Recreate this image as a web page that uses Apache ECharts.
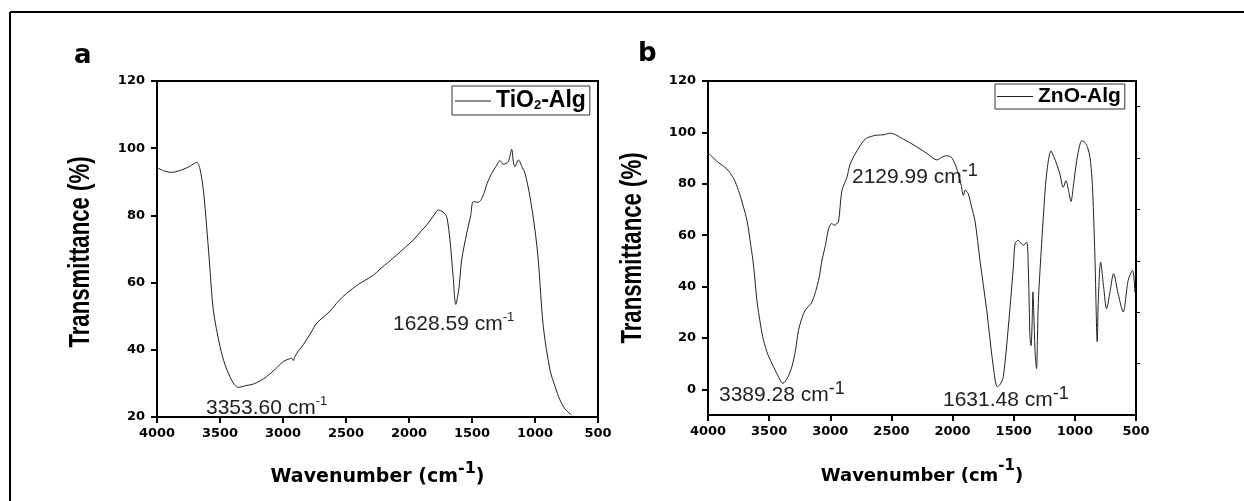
<!DOCTYPE html>
<html>
<head>
<meta charset="utf-8">
<script src="https://cdn.jsdelivr.net/npm/echarts@6/dist/echarts.min.js"></script>
<style>
  html, body { margin: 0; padding: 0; background: #fff; }
  #chart { width: 1244px; height: 501px; }
</style>
</head>
<body>
<div id="chart"></div>
<script>
// panel a: TiO2-Alg spectrum (wavenumber cm-1, transmittance %)
var tioWave = [4000, 3940, 3883, 3800, 3740, 3685, 3660, 3632, 3606, 3585, 3553, 3500, 3460, 3421, 3385, 3355,
  3300, 3236, 3180, 3130, 3060, 2998, 2950, 2931, 2918, 2905, 2880, 2839, 2780, 2730, 2627, 2560, 2495, 2400,
  2283, 2230, 2160, 2098, 2030, 1965, 1900, 1860, 1800, 1767, 1730, 1701, 1675, 1650, 1629, 1605, 1582, 1542,
  1510, 1490, 1450, 1410, 1380, 1344, 1310, 1278, 1252, 1212, 1185, 1172, 1159, 1132, 1100, 1079, 1040, 1000,
  974, 934, 881, 840, 802, 760, 710];
var tioTrans = [94.2, 93.2, 92.8, 93.6, 94.6, 95.8, 94.0, 87.5, 76.6, 66.7, 51.8, 41.0, 35.5, 32.0, 29.6, 28.8,
  29.3, 29.8, 30.8, 32.0, 34.3, 36.5, 37.3, 37.5, 36.8, 38.0, 39.5, 41.5, 45.0, 48.0, 51.5, 54.5, 56.8, 59.5,
  62.2, 64.0, 66.2, 68.2, 70.5, 72.7, 75.5, 77.1, 80.2, 81.6, 81.0, 79.6, 72.7, 62.0, 53.5, 58.0, 66.7, 74.7,
  80.0, 84.1, 83.9, 86.1, 89.5, 92.5, 94.5, 96.3, 95.2, 96.0, 99.7, 96.0, 94.5, 96.5, 94.2, 92.5, 85.6, 75.6,
  66.7, 46.9, 34.0, 29.0, 25.1, 22.3, 20.6];

// panel b: ZnO-Alg spectrum
var znoWave = [4000, 3920, 3845, 3790, 3750, 3710, 3681, 3650, 3627, 3600, 3570, 3546, 3510, 3464, 3420, 3388,
  3350, 3314, 3285, 3260, 3230, 3205, 3150, 3096, 3068, 3040, 3014, 2990, 2960, 2950, 2933, 2905, 2864, 2837,
  2782, 2715, 2660, 2620, 2560, 2511, 2400, 2300, 2200, 2129, 2080, 2047, 2010, 1993, 1970, 1952, 1930, 1911,
  1898, 1890, 1871, 1845, 1817, 1776, 1721, 1667, 1634, 1610, 1585, 1544, 1503, 1489, 1465, 1449, 1435, 1421,
  1394, 1381, 1372, 1367, 1358, 1350, 1343, 1336, 1326, 1313, 1306, 1299, 1285, 1258, 1231, 1195, 1172, 1149,
  1122, 1095, 1073, 1050, 1032, 1010, 985, 960, 944, 917, 895, 876, 860, 849, 835, 817, 808, 789, 765, 741,
  712, 684, 645, 605, 564, 528, 509];
var znoTrans = [92.0, 88.5, 85.7, 82.0, 77.3, 71.0, 65.7, 56.0, 48.0, 34.6, 25.0, 19.1, 13.5, 8.8, 4.5, 2.3,
  4.5, 8.8, 15.0, 23.0, 28.0, 30.8, 34.0, 42.4, 50.2, 56.0, 62.5, 64.5, 63.8, 64.5, 65.0, 77.3, 82.5, 87.7,
  92.8, 97.4, 98.5, 98.9, 99.1, 99.7, 97.3, 94.6, 91.5, 89.3, 90.5, 90.9, 90.3, 89.0, 86.5, 83.8, 79.5, 75.4,
  77.5, 77.3, 76.0, 71.0, 65.7, 50.2, 30.8, 8.8, 1.0, 2.0, 4.9, 24.3, 47.6, 56.6, 58.0, 57.3, 56.5, 56.0,
  57.3, 47.6, 30.0, 20.4, 17.0, 25.0, 37.9, 30.0, 15.0, 8.1, 20.0, 33.4, 46.3, 67.0, 83.8, 92.8, 90.5, 87.7,
  83.8, 78.6, 81.2, 77.0, 73.1, 80.0, 89.0, 95.0, 96.7, 96.1, 94.0, 90.2, 82.0, 70.8, 50.2, 18.5, 35.0, 49.5, 40.0, 31.4,
  38.0, 45.0, 37.0, 30.1, 42.4, 46.3, 37.9];

var xTicks = [500, 4000, 500];         // min, max, step
var yTicksA = [20, 120, 20];
var yTicksB = [0, 20, 40, 60, 80, 100, 120];
var yTicksBRight = [10, 30, 50, 70, 90, 110];

function zip(xs, ys) {
  return xs.map(function (x, i) { return [x, ys[i]]; });
}

var tickFont = {
  color: '#000', fontFamily: 'DejaVu Sans', fontWeight: 'bold', fontSize: 13,
  formatter: function (v) { return String(v); }
};

function xAxisFor(grid, nameSize) {
  return {
    type: 'value', gridIndex: grid, inverse: true,
    min: xTicks[0], max: xTicks[1], interval: xTicks[2],
    axisLine: { onZero: false, lineStyle: { color: '#000', width: 2 } },
    axisTick: { length: 6, lineStyle: { color: '#000', width: 2 } },
    axisLabel: Object.assign({ margin: 10 }, tickFont),
    splitLine: { show: false },
    name: '{n|Wavenumber (cm}{s|-1}{n|)}',
    nameLocation: 'middle', nameGap: 44,
    nameTextStyle: {
      rich: {
        n: { fontFamily: 'DejaVu Sans', fontWeight: 'bold', fontSize: nameSize, color: '#000', lineHeight: 26, verticalAlign: 'bottom' },
        s: { fontFamily: 'DejaVu Sans', fontWeight: 'bold', fontSize: nameSize - 3, color: '#000', lineHeight: 18, verticalAlign: 'top' }
      }
    }
  };
}

// y axis title drawn as a condensed, rotated text
function yTitle(cx, cy) {
  return {
    type: 'text', x: cx, y: cy, rotation: Math.PI / 2, scaleX: 0.74,
    style: {
      text: 'Transmittance (%)', font: 'bold 30px "Liberation Sans"', fill: '#000',
      align: 'center', verticalAlign: 'middle'
    }
  };
}

function anno(x, y, label, supSize, lift) {
  return {
    type: 'text', left: x, top: y, z: 10,
    style: {
      text: '{n|' + label + ' cm}{s|-1}',
      rich: {
        n: { fontFamily: 'Liberation Sans', fontSize: 21, fill: '#222', lineHeight: 24, padding: [lift, 0, 0, 0], verticalAlign: 'top' },
        s: { fontFamily: 'Liberation Sans', fontSize: supSize, fill: '#222', lineHeight: supSize + 2, verticalAlign: 'top' }
      }
    }
  };
}

var chart = echarts.init(document.getElementById('chart'));
chart.setOption({
  backgroundColor: '#fff',
  animation: false,
  grid: [
    { left: 157, top: 81, width: 441, height: 336, show: true, borderColor: '#000', borderWidth: 2 },
    { left: 708, top: 81, width: 428, height: 334, show: true, borderColor: '#000', borderWidth: 2 }
  ],
  legend: [
    {
      data: ['TiO2-Alg'], left: 452, top: 86, icon: 'rect',
      padding: [3, 4, 3, 3], itemWidth: 36, itemHeight: 1, itemGap: 4,
      borderColor: '#333', borderWidth: 1, itemStyle: { color: '#222' },
      formatter: function () { return '{b|TiO}{u|2}{b|-Alg}'; },
      textStyle: {
        rich: {
          b: { fontFamily: 'Liberation Sans', fontWeight: 'bold', fontSize: 23, color: '#000', lineHeight: 24, verticalAlign: 'top' },
          u: { fontFamily: 'Liberation Sans', fontWeight: 'bold', fontSize: 13, color: '#000', lineHeight: 16, padding: [10, 0, 0, 0], verticalAlign: 'top' }
        }
      }
    },
    {
      data: ['ZnO-Alg'], left: 995, top: 84, icon: 'rect',
      padding: [1, 4, 1, 2], itemWidth: 36, itemHeight: 1, itemGap: 4,
      borderColor: '#333', borderWidth: 1, itemStyle: { color: '#222' },
      textStyle: { fontFamily: 'Liberation Sans', fontWeight: 'bold', fontSize: 21, color: '#000', lineHeight: 23 }
    }
  ],
  xAxis: [xAxisFor(0, 19), xAxisFor(1, 18)],
  yAxis: [
    {
      type: 'value', gridIndex: 0, min: yTicksA[0], max: yTicksA[1], interval: yTicksA[2],
      axisLine: { show: true, lineStyle: { color: '#000', width: 2 } },
      axisTick: { show: true, length: 6, lineStyle: { color: '#000', width: 2 } },
      axisLabel: Object.assign({ margin: 12 }, tickFont),
      splitLine: { show: false }
    },
    {
      type: 'value', gridIndex: 1, min: -10, max: 120,
      axisLine: { show: true, onZero: false, lineStyle: { color: '#000', width: 2 } },
      axisTick: { show: true, length: 6, customValues: yTicksB, lineStyle: { color: '#000', width: 2 } },
      axisLabel: Object.assign({ margin: 12, customValues: yTicksB }, tickFont),
      splitLine: { show: false }
    },
    {
      type: 'value', gridIndex: 1, position: 'right', min: -10, max: 120,
      axisLine: { show: true, onZero: false, lineStyle: { color: '#000', width: 2 } },
      axisTick: { show: true, length: 4, customValues: yTicksBRight, lineStyle: { color: '#000', width: 1 } },
      axisLabel: { show: false },
      splitLine: { show: false }
    }
  ],
  series: [
    {
      name: 'TiO2-Alg', type: 'line', xAxisIndex: 0, yAxisIndex: 0,
      data: zip(tioWave, tioTrans), symbol: 'none', smooth: 0.3,
      lineStyle: { color: '#222', width: 1 }, itemStyle: { color: '#222' }
    },
    {
      name: 'ZnO-Alg', type: 'line', xAxisIndex: 1, yAxisIndex: 1,
      data: zip(znoWave, znoTrans), symbol: 'none', smooth: 0.3,
      lineStyle: { color: '#222', width: 1 }, itemStyle: { color: '#222' }
    }
  ],
  graphic: [
    // outer frame (left and top edges)
    { type: 'line', shape: { x1: 10, y1: 12, x2: 10, y2: 501 }, style: { stroke: '#000', lineWidth: 2 } },
    { type: 'line', shape: { x1: 10, y1: 12, x2: 1244, y2: 12 }, style: { stroke: '#000', lineWidth: 2 } },
    { type: 'text', left: 74, top: 43, style: { text: 'a', font: 'bold 26px "DejaVu Sans"', fill: '#000' } },
    { type: 'text', left: 638, top: 41, style: { text: 'b', font: 'bold 26px "DejaVu Sans"', fill: '#000' } },
    yTitle(81, 252),
    yTitle(633, 248),
    anno(206, 395, '3353.60', 13, 3),
    anno(393, 311, '1628.59', 13, 3),
    anno(852, 162, '2129.99', 18, 5),
    anno(719, 380, '3389.28', 18, 5),
    anno(943, 385, '1631.48', 18, 5)
  ]
});
</script>
</body>
</html>
